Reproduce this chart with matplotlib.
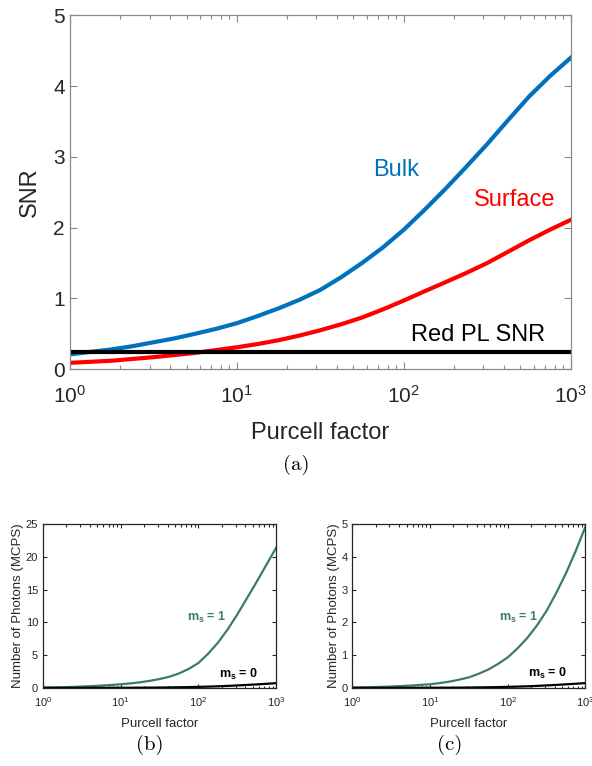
import numpy as np
import matplotlib
matplotlib.use("Agg")
import matplotlib.pyplot as plt

plt.rcParams['font.family'] = ['Liberation Sans', 'DejaVu Sans']
plt.rcParams['mathtext.fontset'] = 'custom'
plt.rcParams['mathtext.rm'] = 'Liberation Sans'
plt.rcParams['mathtext.it'] = 'Liberation Sans:italic'
plt.rcParams['mathtext.bf'] = 'Liberation Sans:bold'

# Purcell factor, read every eighth of a decade
purcell = [1, 1.33, 1.78, 2.37, 3.16, 4.22, 5.62, 7.5, 10, 13.3, 17.8, 23.7, 31.6,
           42.2, 56.2, 75, 100, 133, 178, 237, 316, 422, 562, 750, 1000]

# (a) SNR
snr_bulk = [0.21, 0.245, 0.28, 0.325, 0.38, 0.435, 0.50, 0.57, 0.65, 0.75, 0.86, 0.98, 1.12,
            1.30, 1.50, 1.72, 1.97, 2.25, 2.55, 2.86, 3.18, 3.52, 3.85, 4.14, 4.40]
snr_surface = [0.09, 0.105, 0.12, 0.145, 0.17, 0.20, 0.23, 0.27, 0.31, 0.355, 0.41, 0.475, 0.55,
               0.635, 0.73, 0.845, 0.97, 1.10, 1.23, 1.36, 1.50, 1.66, 1.82, 1.97, 2.11]
snr_red_pl = 0.25

# (b) photons, MCPS
b_ms1 = [0.05, 0.07, 0.10, 0.14, 0.20, 0.27, 0.35, 0.44, 0.55, 0.68, 0.85, 1.07, 1.35,
         1.7, 2.2, 2.9, 3.8, 5.2, 6.9, 8.9, 11.2, 13.7, 16.2, 18.8, 21.4]
b_ms0 = [0.003, 0.004, 0.005, 0.006, 0.008, 0.01, 0.013, 0.016, 0.02, 0.025, 0.032, 0.04, 0.05,
         0.07, 0.09, 0.12, 0.15, 0.19, 0.24, 0.30, 0.37, 0.45, 0.53, 0.62, 0.72]

# (c) photons, MCPS
c_ms1 = [0.01, 0.015, 0.02, 0.03, 0.04, 0.055, 0.07, 0.09, 0.11, 0.145, 0.19, 0.25, 0.32,
         0.43, 0.56, 0.73, 0.93, 1.20, 1.52, 1.90, 2.35, 2.90, 3.50, 4.18, 4.92]
c_ms0 = [0.001, 0.001, 0.001, 0.001, 0.002, 0.002, 0.003, 0.003, 0.004, 0.005, 0.006, 0.008, 0.01,
         0.014, 0.018, 0.024, 0.03, 0.038, 0.048, 0.06, 0.075, 0.09, 0.108, 0.126, 0.145]

xticks = [1, 10, 100, 1000]
xticklabels = ['$10^{0}$', '$10^{1}$', '$10^{2}$', '$10^{3}$']

blue = '#0072BD'
red = '#FF0000'
green = '#3E7D5C'


def style(ax, spine_col, fs, majlen, minlen, xpad):
    ax.set_xscale('log')
    ax.set_xlim(1, 1000)
    ax.set_xticks(xticks)
    ax.set_xticklabels(xticklabels)
    ax.tick_params(which='both', direction='in', top=True, right=True,
                   colors=spine_col, labelcolor='#262626', labelsize=fs, width=0.8)
    ax.tick_params(axis='x', which='major', pad=xpad)
    ax.tick_params(which='major', length=majlen)
    ax.tick_params(which='minor', length=minlen)
    for s in ax.spines.values():
        s.set_color(spine_col)
        s.set_linewidth(0.9)


fig = plt.figure(figsize=(5.92, 7.66), dpi=100)

# ---- (a)
ax = fig.add_axes([0.118, 0.518, 0.846, 0.462])
ax.plot(purcell, snr_bulk, color=blue, lw=3.0)
ax.plot(purcell, snr_surface, color=red, lw=3.0)
ax.axhline(snr_red_pl, color='black', lw=3.0)
style(ax, '#8a8a8a', 15, 5, 3, 11)
ax.set_ylim(0, 5)
ax.set_yticks([0, 1, 2, 3, 4, 5])
ax.set_xlabel('Purcell factor', fontsize=17, color='#262626', labelpad=11)
ax.set_ylabel('SNR', fontsize=17, color='#262626', labelpad=9)
ax.text(90, 2.82, 'Bulk', color=blue, fontsize=17, ha='center', va='center')
ax.text(460, 2.39, 'Surface', color=red, fontsize=17, ha='center', va='center')
ax.text(277, 0.49, 'Red PL SNR', color='black', fontsize=17, ha='center', va='center')
fig.text(0.5, 1 - 465 / 766, '(a)', family='cmr10', fontsize=15, ha='center', va='center')

# ---- (b) and (c)
panels = [
    (0.0726, b_ms1, b_ms0, 25, [0, 5, 10, 15, 20, 25], (126, 10.8), (325, 2.1), '(b)', 150),
    (0.595, c_ms1, c_ms0, 5, [0, 1, 2, 3, 4, 5], (137, 2.16), (325, 0.43), '(c)', 450),
]
for left, ms1, ms0, ymax, yt, pos1, pos0, cap, capx in panels:
    ax = fig.add_axes([left, 0.102, 0.394, 0.214])
    ax.plot(purcell, ms1, color=green, lw=1.6)
    ax.plot(purcell, ms0, color='black', lw=1.6)
    style(ax, '#262626', 8, 3, 1.8, 5.5)
    ax.set_ylim(0, ymax)
    ax.set_yticks(yt)
    ax.set_xlabel('Purcell factor', fontsize=9.5, color='#262626', labelpad=6)
    ax.set_ylabel('Number of Photons (MCPS)', fontsize=9.5, color='#262626', labelpad=1)
    ax.text(pos1[0], pos1[1], r'$\mathbf{m_{s}}$ = 1', color=green, fontsize=9,
            fontweight='bold', ha='center', va='center')
    ax.text(pos0[0], pos0[1], r'$\mathbf{m_{s}}$ = 0', color='black', fontsize=9,
            fontweight='bold', ha='center', va='center')
    fig.text(capx / 592, 1 - 745 / 766, cap, family='cmr10', fontsize=15,
             ha='center', va='center')

fig.savefig('out.png', dpi=100)
